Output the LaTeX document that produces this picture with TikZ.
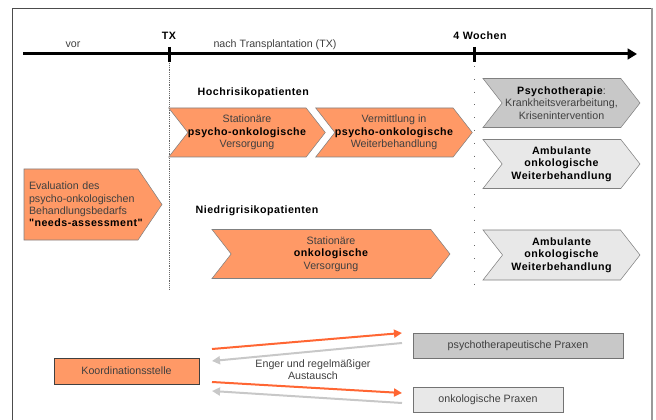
\documentclass[tikz,border=0pt]{standalone}
\usepackage{fontspec}
\setmainfont{Liberation Sans}
\newfontfamily\widefont[LetterSpace=4.5]{Liberation Sans}
\usetikzlibrary{arrows.meta,shapes.symbols,positioning}

\definecolor{orfill}{HTML}{FF9966}
\definecolor{orline}{HTML}{FF6633}
\definecolor{grdark}{HTML}{C8C8C8}
\definecolor{grlight}{HTML}{E8E8E8}
\definecolor{txt}{HTML}{404040}

\newcommand{\bsp}[1]{\mbox{\widefont\bfseries\color{black}#1}}

\tikzset{
  every node/.style={font=\fontsize{8}{9.2}\selectfont, text=txt},
  heading/.style={font=\fontsize{8}{9.2}\selectfont\widefont\bfseries, text=black},
  chevron/.style={shape=signal, signal from=west, signal to=east,
    signal pointer angle=104, draw=black!50, inner sep=0pt,
    minimum height=36.75pt, align=center},
  orchev/.style={chevron, fill=orfill},
  grchev/.style={chevron, fill=grdark},
  ltchev/.style={chevron, fill=grlight},
  praxbox/.style={draw=black!55, minimum height=18.75pt},
  toarrow/.style={orline, line width=1.5pt, -{Triangle[length=6pt,width=6pt]}},
  backarrow/.style={grdark, line width=1.5pt, -{Triangle[length=6pt,width=6pt]}}
}

\begin{document}
\begin{tikzpicture}[x=0.75pt,y=-0.75pt]
\useasboundingbox (0,0) rectangle (656,420);

% frame
\draw[black!70] (12,420) -- (12,8) -- (652,8);
\draw[black!40, line width=1.5pt] (652,8) -- (652,420);

% time line
\coordinate (tstart) at (23,54);
\coordinate (tend) at (637,54);
\draw[line width=2.25pt, -{Triangle[length=7pt,width=8pt]}] (tstart) -- (tend);
\draw[line width=2.25pt] (169,47) -- (169,62);
\draw[line width=2.25pt] (474,47) -- (474,62);
\draw[black!60, densely dotted] (169,63) -- (169,290);
\draw[black!60, dash pattern=on 0.6pt off 9pt] (474,66) -- (474,290);

\node[heading] (tx) at (169,36) {TX};
\node[heading] (wochen) at (480,36) {4 Wochen};
\node (vor) at (73,45) {vor};
\node (nach) at (275,45) {nach Transplantation (TX)};

% Hochrisiko
\node[heading, anchor=west] (hoch) at (193,93) {Hochrisikopatienten};
\node[orchev, minimum width=112.5pt] (statpsy) at (247,132.5)
  {Stationäre\\\bsp{psycho-onkologische}\\Versorgung};
\node[orchev, minimum width=117pt] (verm) at (394,132.5)
  {Vermittlung in\\\bsp{psycho-onkologische}\\Weiterbehandlung};
\node[grchev, minimum width=117.75pt] (psyth) at (561.5,103)
  {\bsp{Psychotherapie}:\\Krankheitsverarbeitung,\\Krisenintervention};
\node[ltchev, minimum width=117.75pt] (amb1) at (561.5,164)
  {\bsp{Ambulante}\\\bsp{onkologische}\\\bsp{Weiterbehandlung}};

% Evaluation
\node[shape=signal, signal to=east, signal pointer angle=112, draw=black!50,
  fill=orfill, inner xsep=3.75pt, inner ysep=0pt, minimum height=53.25pt,
  text width=78pt, align=left] (eval) at (81,204.5)
  {Evaluation des\\\mbox{psycho-onkologischen}\\Behandlungsbedarfs\\\bsp{"needs-assessment"}};

% Niedrigrisiko
\node[heading, anchor=west] (niedrig) at (191,211) {Niedrigrisikopatienten};
\node[orchev, minimum width=178.5pt] (statonk) at (331,254)
  {Stationäre\\\bsp{onkologische}\\Versorgung};
\node[ltchev, minimum width=117.75pt, minimum height=37.5pt] (amb2) at (561.5,255)
  {\bsp{Ambulante}\\\bsp{onkologische}\\\bsp{Weiterbehandlung}};

% Koordination
\node[praxbox, draw=black!75, fill=orfill, minimum width=108.75pt, minimum height=19.5pt]
  (koord) at (126.5,371) {Koordinationsstelle};
\node[praxbox, fill=grdark, minimum width=157.5pt] (psyprax) at (518,345.5)
  {psychotherapeutische Praxen};
\node[praxbox, fill=grlight, minimum width=112.5pt] (onkprax) at (488,399.5)
  {onkologische Praxen};

\coordinate (a1s) at (212,349);
\coordinate (a1e) at (402,333);
\coordinate (b1s) at (402,343);
\coordinate (b1e) at (212,361);
\coordinate (a2s) at (212,382);
\coordinate (a2e) at (402,393);
\coordinate (b2s) at (402,403);
\coordinate (b2e) at (212,391);
\draw[toarrow] (a1s) -- (a1e);
\draw[backarrow] (b1s) -- (b1e);
\draw[toarrow] (a2s) -- (a2e);
\draw[backarrow] (b2s) -- (b2e);
\node[align=center] (austausch) at (313,370) {Enger und regelmäßiger\\Austausch};

\end{tikzpicture}
\end{document}
